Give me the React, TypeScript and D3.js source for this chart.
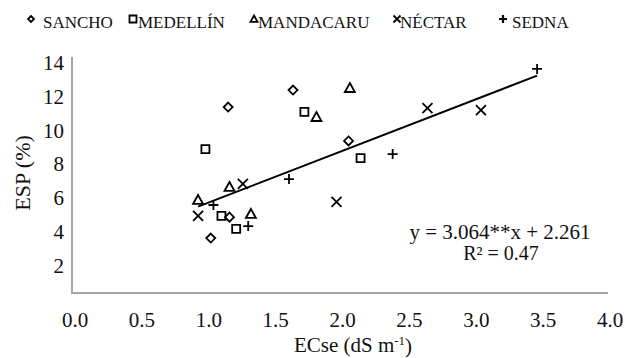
import { useEffect, useRef } from "react";
import * as d3 from "d3";

// series names and marker shapes
const seriesNames = ["SANCHO", "MEDELLÍN", "MANDACARU", "NÉCTAR", "SEDNA"];
const seriesShapes = ["diamond", "square", "triangle", "times", "plus"];

// ECse (dS m-1) per series
const sanchoX = [1.16, 1.645, 2.06, 1.17, 1.03];
const medellinX = [1.73, 0.99, 2.15, 1.11, 1.22];
const mandacaruX = [2.07, 1.82, 1.17, 0.935, 1.33];
const nectarX = [2.65, 3.05, 1.27, 1.97, 0.935];
const sednaX = [3.47, 2.39, 1.615, 1.05, 1.31];

// ESP (%) per series
const sanchoY = [11.03, 12.04, 9.02, 4.5, 3.26];
const medellinY = [10.74, 8.54, 8.0, 4.57, 3.8];
const mandacaruY = [12.16, 10.44, 6.29, 5.52, 4.69];
const nectarY = [10.97, 10.85, 6.47, 5.4, 4.57];
const sednaY = [13.29, 8.24, 6.76, 5.22, 3.97];

const xTicks = [0, 0.5, 1, 1.5, 2, 2.5, 3, 3.5, 4];
const yTicks = [2, 4, 6, 8, 10, 12, 14];

// trend line y = a*x + b
const slope = 3.064;
const intercept = 2.261;
const rSquared = "0.47";

const allX = [sanchoX, medellinX, mandacaruX, nectarX, sednaX];
const allY = [sanchoY, medellinY, mandacaruY, nectarY, sednaY];

// marker outline centred on 0,0
const markerPath = (shape: string, r: number) => {
  switch (shape) {
    case "diamond":
      return `M0,${-r}L${r},0L0,${r}L${-r},0Z`;
    case "square":
      return `M${-r},${-r}H${r}V${r}H${-r}Z`;
    case "triangle":
      return `M0,${-r}L${r},${r * 0.8}H${-r}Z`;
    case "times":
      return `M${-r},${-r}L${r},${r}M${r},${-r}L${-r},${r}`;
    default:
      return `M${-r},0H${r}M0,${-r}V${r}`;
  }
};

const App = () => {
  const ref = useRef<SVGSVGElement>(null);

  useEffect(() => {
    const svg = d3.select(ref.current);
    svg.selectAll("*").remove();

    const font = "'Liberation Serif', 'Times New Roman', serif";
    const textColor = "#111";

    const x = d3.scaleLinear().domain([0, 4]).range([73, 608]);
    const y = d3.scaleLinear().domain([0, 14]).range([293, 57]);

    // axes lines (left and bottom only)
    svg.append("path")
      .attr("d", `M${x(0) - 1},${y(14)}V${y(0)}H${x(4)}`)
      .attr("fill", "none")
      .attr("stroke", "#a6a6a6")
      .attr("stroke-width", 2);

    // y tick labels
    svg.selectAll(".ytick")
      .data(yTicks)
      .enter()
      .append("text")
      .attr("x", 64)
      .attr("y", d => y(d) + 6)
      .attr("dy", "0.35em")
      .attr("text-anchor", "end")
      .attr("font-family", font)
      .attr("font-size", "21px")
      .attr("fill", textColor)
      .text(d => d);

    // x tick labels
    svg.selectAll(".xtick")
      .data(xTicks)
      .enter()
      .append("text")
      .attr("x", d => x(d) + 2)
      .attr("y", 320)
      .attr("dy", "0.35em")
      .attr("text-anchor", "middle")
      .attr("font-family", font)
      .attr("font-size", "21px")
      .attr("fill", textColor)
      .text(d => d.toFixed(1));

    // x axis title
    const xt = svg.append("text")
      .attr("x", 353)
      .attr("y", 345)
      .attr("dy", "0.35em")
      .attr("text-anchor", "middle")
      .attr("font-family", font)
      .attr("font-size", "21px")
      .attr("fill", textColor);
    xt.append("tspan").text("ECse (dS m");
    xt.append("tspan").attr("font-size", "13px").attr("dy", "-0.6em").text("-1");
    xt.append("tspan").attr("dy", "0.4em").text(")");

    // y axis title
    svg.append("text")
      .attr("transform", "translate(22,173) rotate(-90)")
      .attr("dy", "0.35em")
      .attr("text-anchor", "middle")
      .attr("font-family", font)
      .attr("font-size", "22px")
      .attr("fill", textColor)
      .text("ESP (%)");

    // trend line over the observed range
    const xs = d3.extent(allX.flat()) as [number, number];
    const line = d3.line<number>()
      .x(d => x(d))
      .y(d => y(slope * d + intercept));
    svg.append("path")
      .datum(xs)
      .attr("d", line)
      .attr("fill", "none")
      .attr("stroke", "#000")
      .attr("stroke-width", 2);

    // points
    const markerSize = [4.5, 4, 5, 5, 5];
    seriesNames.forEach((name, i) => {
      const pts = allX[i].map((v, j) => ({ x: v, y: allY[i][j] }));
      svg.selectAll(`.pt-${i}`)
        .data(pts)
        .enter()
        .append("path")
        .attr("transform", d => `translate(${x(d.x)},${y(d.y)})`)
        .attr("d", markerPath(seriesShapes[i], markerSize[i]))
        .attr("fill", "none")
        .attr("stroke", "#000")
        .attr("stroke-width", 1.8);
    });

    // regression text
    svg.append("text")
      .attr("x", 500)
      .attr("y", 232)
      .attr("dy", "0.35em")
      .attr("text-anchor", "middle")
      .attr("font-family", font)
      .attr("font-size", "21px")
      .attr("fill", textColor)
      .text(`y = ${slope.toFixed(3)}**x + ${intercept}`);
    svg.append("text")
      .attr("x", 501)
      .attr("y", 253)
      .attr("dy", "0.35em")
      .attr("text-anchor", "middle")
      .attr("font-family", font)
      .attr("font-size", "20px")
      .attr("fill", textColor)
      .text(`R² = ${rSquared}`);

    // legend
    const legendMarkerX = [31, 133, 254, 397, 503];
    const legendTextX = [43, 138, 258, 400, 512];
    const legendMarkerSize = [3, 3.5, 3.5, 3.5, 4];
    seriesNames.forEach((name, i) => {
      svg.append("path")
        .attr("transform", `translate(${legendMarkerX[i]},${19})`)
        .attr("d", markerPath(seriesShapes[i], legendMarkerSize[i]))
        .attr("fill", "none")
        .attr("stroke", "#000")
        .attr("stroke-width", i === 4 ? 2.2 : 1.8);
      svg.append("text")
        .attr("x", legendTextX[i])
        .attr("y", 28)
        .attr("font-family", font)
        .attr("font-size", "17px")
        .attr("fill", textColor)
        .text(name);
    });
  }, []);

  return (
    <svg
      ref={ref}
      width={625}
      height={358}
      style={{ position: "absolute", left: 0, top: 0, background: "#fff" }}
    />
  );
};

export default App;
